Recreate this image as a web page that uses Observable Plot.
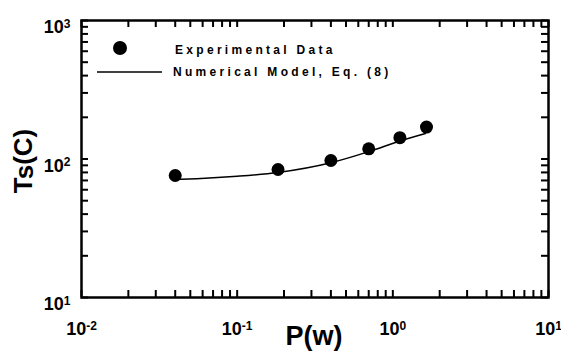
<!DOCTYPE html>
<html><head><meta charset="utf-8">
<script src="https://cdn.jsdelivr.net/npm/d3@7"></script>
<script src="https://cdn.jsdelivr.net/npm/@observablehq/plot@0.6"></script>
<style>
html,body{margin:0;padding:0;background:#fff;}
#chart{position:relative;width:561px;height:354px;}
</style></head><body><div id="chart"></div>
<script>
const expPower = [0.04, 0.183, 0.4, 0.7, 1.11, 1.645];
const expTemp = [76, 84, 97.5, 118.5, 142.5, 170];
// Numerical model, Eq. (8)
const modelPower = [0.039, 0.055, 0.1, 0.183, 0.4, 0.7, 1.11, 1.62];
const modelTemp = [71, 72, 75, 80, 94, 113, 135, 153];
// Tick labels (powers of ten)
const xTickExps = [-2, -1, 0, 1];
const yTickExps = [1, 2, 3];
const legendLabels = ["Experimental Data", "Numerical Model, Eq. (8)"];
const xLabel = "P(w)";
const yLabelMain = "T";
const yLabelSub = "s";
const yLabelRest = "(C)";

const minorTicks = (lo, hi) => { const a = []; for (let e = lo; e < hi; e++) for (let k = 1; k < 10; k++) a.push(k * 10 ** e); a.push(10 ** hi); return a; };
const xMinor = minorTicks(-2, 1);
const yMinor = minorTicks(1, 3);
const xMajor = xTickExps.map(e => 10 ** e);
const yMajor = yTickExps.map(e => 10 ** e);

const expData = expPower.map((x, i) => ({x, y: expTemp[i]}));
const modelData = modelPower.map((x, i) => ({x, y: modelTemp[i]}));

const W = 561, H = 354, ML = 81, MR = 13, MT = 20, MB = 57;
const innerW = W - ML - MR, innerH = H - MT - MB, TL = 7;
const font = "'Liberation Sans', Arial, sans-serif";
const fmt = d => "10^" + Math.round(Math.log10(d));

const svg = Plot.plot({
  width: W, height: H,
  marginLeft: ML, marginRight: MR, marginTop: MT, marginBottom: MB,
  style: {fontFamily: font, background: "#fff", color: "#000", overflow: "visible"},
  x: {type: "log", domain: [0.01, 10]},
  y: {type: "log", domain: [10, 1000]},
  marks: [
    // inward ticks on all four sides
    Plot.tickX(xMinor, {x: d => d, insetTop: innerH - TL, stroke: "black", strokeWidth: 2}),
    Plot.tickX(xMinor, {x: d => d, insetBottom: innerH - TL, stroke: "black", strokeWidth: 2}),
    Plot.tickY(yMinor, {y: d => d, insetRight: innerW - TL, stroke: "black", strokeWidth: 2}),
    Plot.tickY(yMinor, {y: d => d, insetLeft: innerW - TL, stroke: "black", strokeWidth: 2}),
    Plot.axisX(xMajor, {anchor: "bottom", tickSize: 0, tickPadding: 25, tickFormat: fmt, fontSize: 18, fontWeight: "bold", label: null}),
    Plot.axisY(yMajor, {anchor: "left", tickSize: 0, tickPadding: 11, dy: 7, tickFormat: fmt, fontSize: 18, fontWeight: "bold", label: null}),
    Plot.line(modelData, {x: "x", y: "y", curve: "monotone-x", stroke: "black", strokeWidth: 1.5}),
    Plot.dot(expData, {x: "x", y: "y", r: 6.5, fill: "black"}),
    Plot.frame({stroke: "black", strokeWidth: 2.5})
  ]
});

// superscript exponents in tick labels
d3.select(svg).selectAll('g[aria-label$="tick label"] text').each(function() {
  const t = d3.select(this);
  const s = t.text();
  if (!s.includes("^")) return;
  const [base, exp] = s.split("^");
  t.text(null);
  t.append("tspan").text(base);
  t.append("tspan").attr("dy", "-0.45em").attr("font-size", 12).text(exp);
});

const g = d3.select(svg).append("g").attr("font-family", font).attr("font-weight", "bold").attr("text-anchor", "start");
// legend
g.append("circle").attr("cx", 120).attr("cy", 48).attr("r", 7).attr("fill", "black");
g.append("text").attr("x", 175).attr("y", 54).attr("font-size", 12).attr("letter-spacing", 3.3).text(legendLabels[0]);
g.append("line").attr("x1", 97).attr("x2", 162).attr("y1", 72).attr("y2", 72).attr("stroke", "black").attr("stroke-width", 1.5);
g.append("text").attr("x", 173).attr("y", 75.5).attr("font-size", 12).attr("letter-spacing", 3.3).text(legendLabels[1]);
// axis titles
g.append("text").attr("x", 314).attr("y", 345).attr("text-anchor", "middle").attr("font-size", 27).text(xLabel);
const yt = g.append("text").attr("transform", "translate(32,161) rotate(-90)").attr("text-anchor", "middle").attr("font-size", 26);
yt.append("tspan").text(yLabelMain);
yt.append("tspan").attr("dy", 1).text(yLabelSub);
yt.append("tspan").attr("dy", -1).text(yLabelRest);

document.getElementById("chart").appendChild(svg);
</script></body></html>
